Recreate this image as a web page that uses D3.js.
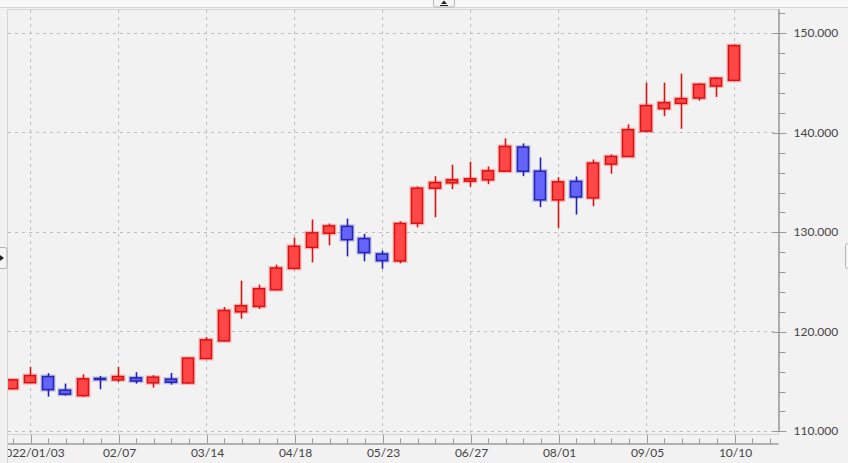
<!DOCTYPE html>
<html><head><meta charset="utf-8">
<script src="https://cdn.jsdelivr.net/npm/d3@7"></script>
<style>
html,body{margin:0;padding:0;background:#f2f2f2;overflow:hidden}
svg{display:block}
text{font-family:Lato,"DejaVu Sans",sans-serif}
</style></head><body>
<svg id="c" width="848" height="463"></svg>
<script>
const weeks = ["2021/12/27","2022/01/03","01/10","01/17","01/24","01/31","02/07","02/14","02/21","02/28","03/07","03/14","03/21","03/28","04/04","04/11","04/18","04/25","05/02","05/09","05/16","05/23","05/30","06/06","06/13","06/20","06/27","07/04","07/11","07/18","07/25","08/01","08/08","08/15","08/22","08/29","09/05","09/12","09/19","09/26","10/03","10/10"];
const open  = [114.25,114.85,115.46,114.09,113.55,115.27,115.13,115.33,114.83,115.20,114.82,117.27,119.05,121.97,122.51,124.19,126.33,128.45,129.86,130.56,129.33,127.78,127.08,130.87,134.39,134.93,135.10,135.24,136.10,138.52,136.10,133.22,135.07,133.42,136.81,137.58,140.13,142.39,142.92,143.46,144.66,145.23];
const close = [115.13,115.56,114.15,113.69,115.23,115.19,115.46,115.02,115.40,114.89,117.31,119.15,122.10,122.58,124.29,126.37,128.55,129.90,130.60,129.22,127.92,127.11,130.84,134.39,134.96,135.24,135.34,136.14,138.59,136.10,133.22,135.03,133.52,136.91,137.58,140.27,142.69,142.99,143.39,144.83,145.44,148.72];
const high  = [115.23,116.44,115.80,114.76,115.70,115.53,116.44,115.90,115.60,115.83,117.34,119.43,122.45,125.10,124.69,126.71,129.43,131.24,130.84,131.34,129.80,128.12,131.07,134.56,135.60,136.75,137.05,136.58,139.40,138.89,137.48,135.50,135.57,137.28,137.78,140.81,144.99,144.99,145.90,144.93,145.54,148.85];
const low   = [114.17,114.82,113.44,113.55,113.44,114.19,114.92,114.75,114.35,114.65,114.75,117.20,119.00,121.27,122.25,124.14,126.25,126.94,128.65,127.54,127.04,126.30,126.84,130.46,131.47,134.29,134.53,134.79,136.05,135.60,132.48,130.40,131.74,132.58,135.84,137.55,140.10,141.64,140.37,143.19,143.56,145.16];
const xTickIdx = [1,6,11,16,21,26,31,36,41];
const xTickLabels = ["2022/01/03","02/07","03/14","04/18","05/23","06/27","08/01","09/05","10/10"];
const yMajor = [110,120,130,140,150];
const yMinor = [112,114,116,118,122,124,126,128,132,134,136,138,142,144,146,148,152];

const svg = d3.select("#c");
const L = 7, R = 778, T = 9, B = 434, AX = 443;
const x = d3.scaleLinear().domain([-0.307, 43.5]).range([L, R]);
const y = d3.scaleLinear().domain([110, 152.4]).range([430.9, T]);

// top strip
svg.append("rect").attr("x",0).attr("y",0).attr("width",848).attr("height",7).attr("fill","#f7f7f7");
svg.append("line").attr("x1",0).attr("x2",848).attr("y1",7.5).attr("y2",7.5).attr("stroke","#d6d6d6");
const btn = svg.append("g");
btn.append("rect").attr("x",433.5).attr("y",-3).attr("width",21).attr("height",10).attr("rx",2).attr("fill","#f5f5f5").attr("stroke","#b5b5b5");
btn.append("path").attr("d","M441,4 L444,0.5 L447,4 Z").attr("fill","#222");
btn.append("line").attr("x1",440).attr("x2",448).attr("y1",5.5).attr("y2",5.5).attr("stroke","#222");

// plot area frame
svg.append("rect").attr("x",L+0.5).attr("y",T+0.5).attr("width",R-L).attr("height",B-T).attr("fill","#f2f2f2").attr("stroke","#d4d4d4");
svg.append("line").attr("x1",L+0.5).attr("x2",L+0.5).attr("y1",B).attr("y2",463).attr("stroke","#d4d4d4");

// gridlines
const grid = svg.append("g");
grid.selectAll("line.v").data(xTickIdx).join("line")
  .attr("x1",d=>Math.round(x(d))+0.5).attr("x2",d=>Math.round(x(d))+0.5)
  .attr("y1",T+1).attr("y2",B).attr("stroke","#bdbdbd").attr("stroke-dasharray","3,4");
grid.selectAll("line.h").data(yMajor).join("line")
  .attr("x1",L+1).attr("x2",R).attr("y1",d=>Math.round(y(d))+0.5).attr("y2",d=>Math.round(y(d))+0.5)
  .attr("stroke","#bdbdbd").attr("stroke-dasharray","3,4");

// clip
svg.append("clipPath").attr("id","pc").append("rect").attr("x",L+1).attr("y",T+1).attr("width",R-L-1).attr("height",B-T-1);
svg.append("clipPath").attr("id","xc").append("rect").attr("x",L+1).attr("y",B).attr("width",R-L+5).attr("height",463-B);

// candles
const data = weeks.map((w,i)=>({i,o:open[i],c:close[i],h:high[i],l:low[i]}));
const up = d => d.c >= d.o;
const bw = 11;
const cg = svg.append("g").attr("clip-path","url(#pc)");
const g = cg.selectAll("g").data(data).join("g");
g.append("line").attr("x1",d=>Math.round(x(d.i))+0.5).attr("x2",d=>Math.round(x(d.i))+0.5)
  .attr("y1",d=>y(d.h)).attr("y2",d=>y(d.l))
  .attr("stroke",d=>up(d)?"#e01010":"#2020b0").attr("stroke-width",1.6);
g.append("rect")
  .attr("x",d=>Math.round(x(d.i))-bw/2)
  .attr("y",d=>y(Math.max(d.o,d.c)))
  .attr("width",bw)
  .attr("height",d=>Math.max(1,Math.abs(y(d.o)-y(d.c))))
  .attr("fill","none")
  .attr("stroke",d=>up(d)?"rgba(230,40,40,0.28)":"rgba(40,40,190,0.28)").attr("stroke-width",4);
g.append("rect")
  .attr("x",d=>Math.round(x(d.i))-bw/2)
  .attr("y",d=>y(Math.max(d.o,d.c)))
  .attr("width",bw)
  .attr("height",d=>Math.max(1,Math.abs(y(d.o)-y(d.c))))
  .attr("fill",d=>up(d)?"#ff4747":"#6464fa")
  .attr("stroke",d=>up(d)?"#dd1010":"#2323b5").attr("stroke-width",1.5);

// x axis
const xg = svg.append("g").attr("clip-path","url(#xc)");
const xMinorAxis = d3.axisBottom(x).tickValues(d3.range(0,44)).tickSizeInner(-5).tickSizeOuter(0).tickFormat("");
const xa1 = xg.append("g").attr("transform",`translate(0,${AX+0.5})`).call(xMinorAxis);
const xMajorAxis = d3.axisBottom(x).tickValues(xTickIdx).tickSizeInner(-9).tickSizeOuter(0).tickPadding(5)
  .tickFormat((d,k)=>xTickLabels[k]);
const xa2 = xg.append("g").attr("transform",`translate(0,${AX+0.5})`).call(xMajorAxis);
[xa1,xa2].forEach(a=>{
  a.select(".domain").attr("stroke","#9a9a9a");
  a.selectAll(".tick line").attr("stroke","#9a9a9a");
  a.selectAll(".tick").attr("transform",function(){const t=d3.select(this).attr("transform");const m=/translate\(([-\d.]+)/.exec(t);return `translate(${Math.round(+m[1])+0.5},0)`;});
});
xa2.selectAll("text").attr("fill","#444").style("font-size","12px").style("font-family","Lato, 'DejaVu Sans', sans-serif");

// y axis
const yMinorAxis = d3.axisRight(y).tickValues(yMinor).tickSizeInner(7).tickSizeOuter(0).tickFormat("");
const ya1 = svg.append("g").attr("transform",`translate(${R+0.5},0)`).call(yMinorAxis);
const yMajorAxis = d3.axisRight(y).tickValues(yMajor).tickSizeInner(8).tickSizeOuter(0).tickPadding(7).tickFormat(d3.format(".3f"));
const ya2 = svg.append("g").attr("transform",`translate(${R+0.5},0)`).call(yMajorAxis);
ya2.selectAll(".tick line").attr("x1",-6);
[ya1,ya2].forEach(a=>{
  a.select(".domain").attr("stroke","#9a9a9a");
  a.selectAll(".tick line").attr("stroke","#9a9a9a");
  a.selectAll(".tick").attr("transform",function(){const t=d3.select(this).attr("transform");const m=/,([-\d.]+)\)/.exec(t);return `translate(0,${Math.round(+m[1])+0.5})`;});
});
ya2.selectAll("text").attr("fill","#444").style("font-size","12px").style("font-family","Lato, 'DejaVu Sans', sans-serif");

// side buttons
const lb = svg.append("g");
lb.append("rect").attr("x",-4).attr("y",247.5).attr("width",11).attr("height",21).attr("rx",2).attr("fill","#f5f5f5").attr("stroke","#b5b5b5");
lb.append("path").attr("d","M0,255 L4,258 L0,261 Z").attr("fill","#222");
lb.append("line").attr("x1",-1).attr("x2",-1).attr("y1",254).attr("y2",262).attr("stroke","#222");
svg.append("rect").attr("x",845.5).attr("y",243.5).attr("width",8).attr("height",25).attr("rx",2).attr("fill","#f5f5f5").attr("stroke","#b5b5b5");
</script></body></html>
